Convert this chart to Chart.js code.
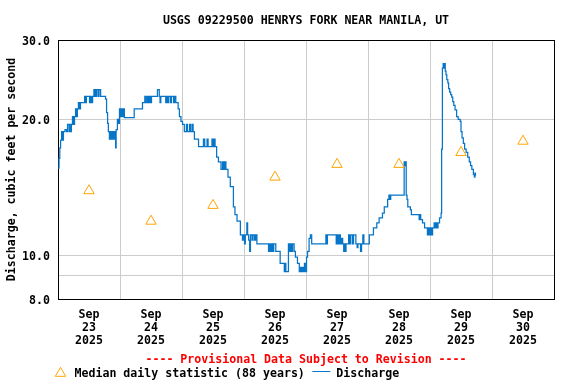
<!DOCTYPE html>
<html><head><meta charset="utf-8">
<script src="https://cdn.jsdelivr.net/npm/chart.js@4/dist/chart.umd.min.js"></script>
<style>html,body{margin:0;padding:0;background:#fff;}#wrap{width:576px;height:384px;}</style>
</head><body><div id="wrap"><canvas id="c" width="576" height="384"></canvas></div>
<script>
const chartTitle = 'USGS 09229500 HENRYS FORK NEAR MANILA, UT';
const yAxisTitle = 'Discharge, cubic feet per second';
const provisionalNote = '---- Provisional Data Subject to Revision ----';
const tickMonth = 'Sep';
const tickYear = '2025';
const tickDays = ['23', '24', '25', '26', '27', '28', '29', '30'];
const yTickValues = [8, 9, 10, 20, 30];
const yTickLabels = ['8.0', '', '10.0', '20.0', '30.0'];

const medianLabel = 'Median daily statistic (88 years)';
const medianHours = [12, 36, 60, 84, 108, 132, 156, 180];
const medianCfs = [13.9, 11.9, 12.9, 14.9, 15.9, 15.9, 16.9, 17.9];

const dischargeLabel = 'Discharge';
// hours since Sep 23 00:00, value holds until next entry
const dischargeHours = [
  0.0, 0.4, 0.7, 1.0, 1.4, 1.7, 2.1, 2.7, 3.3, 3.7, 4.3, 4.5, 5.0, 5.2, 5.6, 6.0, 6.4, 6.8, 7.2, 7.5,
  7.9, 8.3, 8.7, 10.3, 10.6, 11.0, 12.2, 12.6, 13.0, 13.4, 13.9, 14.3, 14.5, 14.9, 15.1, 15.7, 15.9, 16.5, 18.4, 18.8,
  19.2, 19.5, 19.9, 20.3, 20.7, 21.1, 21.5, 21.9, 22.3, 22.5, 23.0, 23.4, 23.8, 24.2, 24.6, 25.0, 25.4, 25.7, 29.5, 32.7,
  33.6, 34.1, 34.6, 35.0, 35.4, 35.8, 36.2, 38.5, 39.2, 39.5, 39.8, 41.7, 42.0, 42.4, 42.8, 43.5, 43.9, 44.7, 45.1, 45.6,
  46.5, 47.0, 47.6, 48.2, 48.9, 49.7, 50.1, 50.9, 51.3, 51.9, 52.3, 52.8, 54.4, 56.3, 56.8, 57.7, 58.1, 59.6, 60.0, 60.4,
  60.8, 61.4, 62.1, 63.1, 63.7, 64.1, 64.5, 65.0, 65.8, 66.7, 67.9, 68.5, 69.3, 70.6, 71.4, 71.7, 72.2, 72.5, 73.1, 73.4,
  73.8, 74.2, 74.5, 75.1, 75.5, 76.1, 76.5, 77.0, 81.5, 81.8, 82.3, 82.7, 83.1, 83.5, 84.3, 86.0, 87.6, 87.9, 88.2, 89.2,
  89.6, 90.0, 90.4, 90.8, 91.4, 91.9, 92.7, 93.4, 93.9, 94.3, 94.7, 95.0, 95.4, 95.9, 96.2, 96.6, 97.2, 97.7, 98.2, 103.7,
  104.0, 104.3, 107.7, 108.1, 108.4, 108.8, 109.3, 109.8, 110.2, 110.6, 111.0, 111.2, 111.5, 112.5, 112.9, 113.3, 114.0, 114.4, 115.3, 115.8,
  116.1, 117.1, 117.5, 118.0, 118.4, 120.5, 122.1, 123.4, 124.3, 125.6, 126.3, 127.6, 128.1, 128.4, 128.8, 134.0, 134.3, 134.6, 134.8, 135.1,
  135.4, 136.4, 136.8, 139.8, 140.1, 140.4, 141.1, 141.9, 143.0, 143.4, 143.8, 144.2, 144.6, 145.0, 145.6, 146.0, 146.3, 146.7, 147.1, 147.7,
  148.3, 148.5, 148.8, 149.1, 149.4, 149.6, 149.9, 150.2, 150.5, 150.9, 151.2, 151.6, 152.0, 152.4, 152.8, 153.2, 153.7, 154.3, 154.9, 155.7,
  156.0, 156.4, 156.9, 157.4, 158.0, 158.6, 159.2, 159.7, 160.2, 160.8, 161.2, 161.4, 161.6
];
const dischargeCfs = [
  15.6, 16.4, 17.3, 18.0, 18.8, 18.0, 18.8, 19.0, 18.8, 19.5, 18.8, 19.5, 18.8, 19.5, 20.3, 19.5, 20.3, 21.1, 20.3, 21.1,
  21.8, 21.1, 21.8, 22.5, 21.8, 22.5, 21.8, 22.5, 21.8, 22.5, 23.3, 22.5, 23.3, 22.5, 23.3, 22.5, 23.3, 22.5, 22.2, 20.7,
  19.6, 18.8, 18.1, 18.8, 18.1, 18.8, 18.1, 18.8, 17.3, 19.0, 20.0, 19.6, 21.1, 20.3, 21.1, 20.3, 21.1, 20.2, 21.1, 21.8,
  22.5, 21.8, 22.5, 21.8, 22.5, 21.8, 22.5, 23.3, 22.5, 21.8, 22.5, 21.8, 22.5, 21.8, 22.5, 21.8, 22.5, 21.8, 22.5, 21.8,
  21.1, 20.3, 19.8, 19.5, 18.8, 19.5, 18.8, 19.5, 18.8, 19.5, 18.8, 18.1, 17.4, 18.1, 17.4, 18.1, 17.4, 18.1, 17.4, 18.1,
  17.4, 16.5, 16.1, 15.5, 16.1, 15.5, 16.1, 15.5, 14.9, 14.2, 12.8, 12.3, 11.9, 11.1, 10.8, 11.1, 10.6, 11.1, 11.8, 11.1,
  10.8, 10.2, 11.1, 10.8, 11.1, 10.8, 11.1, 10.6, 10.2, 10.6, 10.2, 10.6, 10.2, 10.6, 10.2, 9.6, 9.2, 9.6, 9.2, 10.6,
  10.2, 10.6, 10.2, 10.6, 10.2, 9.9, 9.6, 9.2, 9.4, 9.2, 9.4, 9.2, 9.6, 9.2, 9.9, 10.2, 10.9, 11.1, 10.6, 11.1,
  10.6, 11.1, 10.6, 11.1, 10.6, 11.1, 10.6, 10.9, 10.6, 10.2, 10.6, 10.2, 10.6, 11.1, 10.6, 11.1, 10.6, 11.1, 10.6, 10.4,
  10.6, 10.2, 10.6, 11.1, 10.6, 11.1, 11.5, 11.8, 12.1, 12.4, 12.8, 13.3, 13.6, 13.3, 13.6, 16.1, 15.8, 16.1, 13.6, 13.3,
  12.8, 12.6, 12.3, 12.0, 12.3, 12.0, 11.8, 11.5, 11.1, 11.5, 11.1, 11.5, 11.1, 11.5, 11.8, 11.5, 11.8, 11.5, 11.8, 12.1,
  12.4, 17.2, 26.0, 26.6, 26.0, 26.6, 25.6, 25.1, 24.5, 24.1, 23.4, 23.0, 22.7, 22.4, 21.9, 21.5, 21.0, 20.3, 20.0, 19.8,
  18.8, 18.2, 17.7, 17.2, 16.9, 16.5, 16.1, 15.8, 15.5, 15.1, 14.9, 15.2, 15.0
];

const FONT = "'DejaVu Sans Mono', 'Liberation Mono', monospace";
const mono = (lh) => ({ family: FONT, size: 11.6, weight: 'bold', lineHeight: lh });
const MEDIAN_COLOR = '#FFA500';
const LINE_COLOR = '#0675C8';

Chart.defaults.color = '#000';
Chart.defaults.font.family = FONT;

const usgsLegend = {
  id: 'usgsLegend',
  afterDraw(chart) {
    const ctx = chart.ctx;
    const ds = chart.data.datasets;
    ctx.save();
    ctx.font = 'bold 11.6px ' + FONT;
    ctx.textBaseline = 'middle';
    ctx.textAlign = 'left';
    ctx.fillStyle = '#000';
    const y = 373.5;
    const cx = 60.5, cy = 373.3, r = 6;
    ctx.strokeStyle = ds[0].borderColor;
    ctx.lineWidth = 1;
    ctx.beginPath();
    ctx.moveTo(cx, cy - r);
    ctx.lineTo(cx + r * 0.866, cy + r / 2);
    ctx.lineTo(cx - r * 0.866, cy + r / 2);
    ctx.closePath();
    ctx.stroke();
    let x = 74.5;
    ctx.fillText(ds[0].label, x, y);
    x += ctx.measureText(ds[0].label).width + 7.5;
    ctx.strokeStyle = ds[1].borderColor;
    ctx.beginPath();
    ctx.moveTo(x, 371.5);
    ctx.lineTo(x + 18, 371.5);
    ctx.stroke();
    ctx.fillText(ds[1].label, x + 24, y);
    ctx.restore();
  }
};

new Chart(document.getElementById('c'), {
  type: 'line',
  data: {
    datasets: [
      {
        label: medianLabel,
        data: medianHours.map((h, i) => ({ x: h, y: medianCfs[i] })),
        showLine: false,
        pointStyle: 'triangle',
        pointRadius: 6,
        pointBorderWidth: 1,
        borderColor: MEDIAN_COLOR,
        pointBorderColor: MEDIAN_COLOR,
        pointBackgroundColor: 'rgba(0,0,0,0)',
        backgroundColor: 'rgba(0,0,0,0)'
      },
      {
        label: dischargeLabel,
        data: dischargeHours.map((h, i) => ({ x: h, y: dischargeCfs[i] })),
        borderColor: LINE_COLOR,
        backgroundColor: LINE_COLOR,
        borderWidth: 1.25,
        pointRadius: 0,
        stepped: true,
        fill: false,
        tension: 0
      }
    ]
  },
  options: {
    responsive: false,
    animation: false,
    events: [],
    layout: { padding: { left: 0, right: 22, top: 0, bottom: 18 } },
    plugins: {
      legend: { display: false },
      tooltip: { enabled: false },
      title: {
        display: true, text: chartTitle, fullSize: false, color: '#000',
        font: mono('14px'), padding: { top: 14, bottom: 12 }
      },
      subtitle: {
        display: true, position: 'bottom', text: provisionalNote, fullSize: false,
        color: '#FF0000', font: mono('13px'), padding: { top: 7, bottom: 0 }
      }
    },
    scales: {
      x: {
        type: 'linear',
        min: 0,
        max: tickDays.length * 24,
        afterBuildTicks: (s) => {
          const t = [];
          for (let i = 0; i <= tickDays.length * 2; i++) t.push({ value: i * 12 });
          s.ticks = t;
        },
        afterFit: (s) => { s.height = 47; },
        border: { display: true, color: '#000', width: 1 },
        grid: {
          drawTicks: false,
          lineWidth: 1,
          color: (c) => {
            const v = c.tick ? c.tick.value : 0;
            if (v % 24 !== 0) return 'rgba(0,0,0,0)';
            if (v === 0 || v === tickDays.length * 24) return '#000';
            return '#CCCCCC';
          }
        },
        ticks: {
          autoSkip: false, maxRotation: 0, minRotation: 0, padding: 9,
          font: mono('13px'), color: '#000',
          callback: (v) => {
            if (v % 24 === 12) return [tickMonth, tickDays[(v - 12) / 24], tickYear];
            return '';
          }
        }
      },
      y: {
        type: 'logarithmic',
        min: yTickValues[0],
        max: yTickValues[yTickValues.length - 1],
        afterBuildTicks: (s) => { s.ticks = yTickValues.map(v => ({ value: v })); },
        afterFit: (s) => { s.width = 58; },
        border: { display: true, color: '#000', width: 1 },
        grid: {
          drawTicks: false,
          lineWidth: 1,
          color: (c) => {
            const v = c.tick ? c.tick.value : 0;
            if (v === yTickValues[0] || v === yTickValues[yTickValues.length - 1]) return '#000';
            return '#CCCCCC';
          }
        },
        ticks: {
          autoSkip: false, padding: 8, labelOffset: 1.5, font: mono('14px'), color: '#000',
          callback: (v) => {
            const i = yTickValues.indexOf(v);
            return i >= 0 ? yTickLabels[i] : '';
          }
        },
        title: {
          display: true, text: yAxisTitle, color: '#000',
          font: mono('14px'), padding: { top: 5, bottom: 0 }
        }
      }
    }
  },
  plugins: [usgsLegend]
});
</script>
</body></html>
